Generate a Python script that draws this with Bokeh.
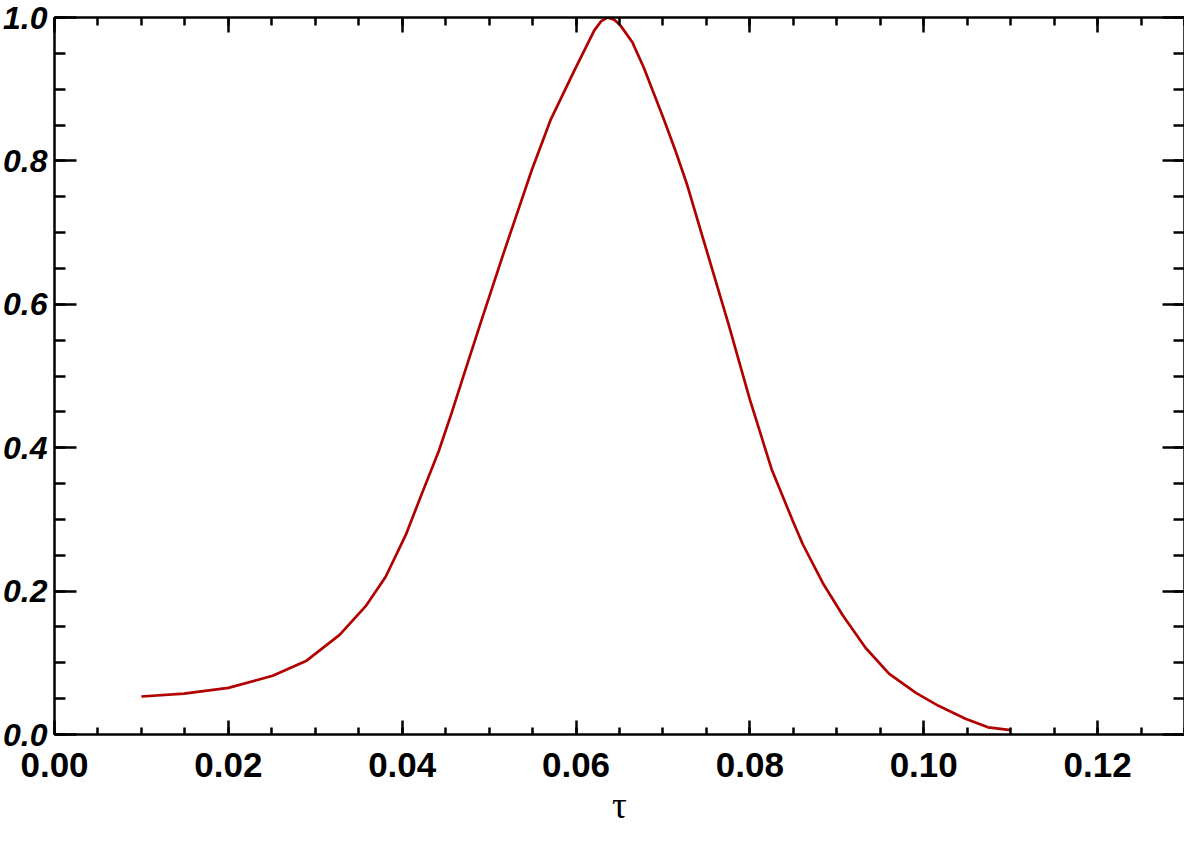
from bokeh.plotting import figure
from bokeh.models import LinearAxis, SingleIntervalTicker, PrintfTickFormatter, Range1d
from bokeh.embed import file_html
from bokeh.resources import INLINE

# Data
tau = [0.0100, 0.0149, 0.0200, 0.0251, 0.0290, 0.0328, 0.0358, 0.0381, 0.0404,
       0.0423, 0.0442, 0.0457, 0.0471, 0.0491, 0.0516, 0.0549, 0.0571, 0.0598,
       0.0612, 0.0621, 0.0629, 0.0636, 0.0644, 0.0651, 0.0665, 0.0678, 0.0701,
       0.0715, 0.0728, 0.0750, 0.0775, 0.0800, 0.0825, 0.0850, 0.0861, 0.0884,
       0.0907, 0.0933, 0.0960, 0.0991, 0.1017, 0.1048, 0.1074, 0.1100]
prob = [0.053, 0.057, 0.065, 0.082, 0.103, 0.139, 0.179, 0.220, 0.278,
        0.337, 0.395, 0.449, 0.502, 0.577, 0.669, 0.787, 0.858, 0.926,
        0.960, 0.982, 0.995, 1.000, 0.997, 0.989, 0.965, 0.930, 0.858,
        0.812, 0.766, 0.676, 0.574, 0.467, 0.370, 0.296, 0.265, 0.211,
        0.166, 0.121, 0.085, 0.058, 0.040, 0.022, 0.010, 0.006]

x_title = "τ"
x_start, x_end, x_step = 0.0, 0.13, 0.02
y_start, y_end, y_step = 0.0, 1.0, 0.2

p = figure(width=1184, height=828, output_backend="svg", toolbar_location=None,
           x_range=Range1d(x_start, x_end), y_range=Range1d(y_start, y_end),
           x_axis_location=None, y_axis_location=None,
           min_border_top=17, min_border_right=0, min_border_left=6, min_border_bottom=0)
p.grid.visible = False
p.outline_line_color = None
p.background_fill_color = "white"
p.border_fill_color = "white"

def make_axis(step, fmt, show_labels, tick_major, tick_minor):
    ax = LinearAxis(ticker=SingleIntervalTicker(interval=step, num_minor_ticks=4),
                    formatter=PrintfTickFormatter(format=fmt))
    ax.axis_line_width = 2.5
    ax.axis_line_color = "black"
    ax.major_tick_in = tick_major
    ax.major_tick_out = 0
    ax.minor_tick_in = tick_minor
    ax.minor_tick_out = 0
    ax.major_tick_line_width = 2.5
    ax.minor_tick_line_width = 2.5
    ax.major_tick_line_color = "black"
    ax.minor_tick_line_color = "black"
    if show_labels:
        ax.major_label_text_color = "black"
    else:
        ax.major_label_text_font_size = "0px"
        ax.major_label_standoff = 0
    return ax

bottom = make_axis(x_step, "%.2f", True, 14, 7)
bottom.major_label_text_font = "Liberation Sans"
bottom.major_label_text_font_size = "35px"
bottom.major_label_text_font_style = "bold"
bottom.major_label_standoff = 18
bottom.axis_label = x_title
bottom.axis_label_text_font = "Liberation Serif"
bottom.axis_label_text_font_style = "normal"
bottom.axis_label_text_font_size = "37px"
bottom.axis_label_text_color = "black"
bottom.axis_label_standoff = 5
p.add_layout(bottom, "below")

top = make_axis(x_step, "%.2f", False, 15, 8)
p.add_layout(top, "above")

left = make_axis(y_step, "%.1f", True, 22, 11)
left.major_label_text_font = "Liberation Sans"
left.major_label_text_font_size = "32px"
left.major_label_text_font_style = "bold italic"
left.major_label_standoff = 7
p.add_layout(left, "left")

right = make_axis(y_step, "%.1f", False, 22, 11)
p.add_layout(right, "right")

p.line(tau, prob, line_color="#b00000", line_width=2.7, line_join="round")

open("out.html", "w").write(file_html(p, INLINE))
